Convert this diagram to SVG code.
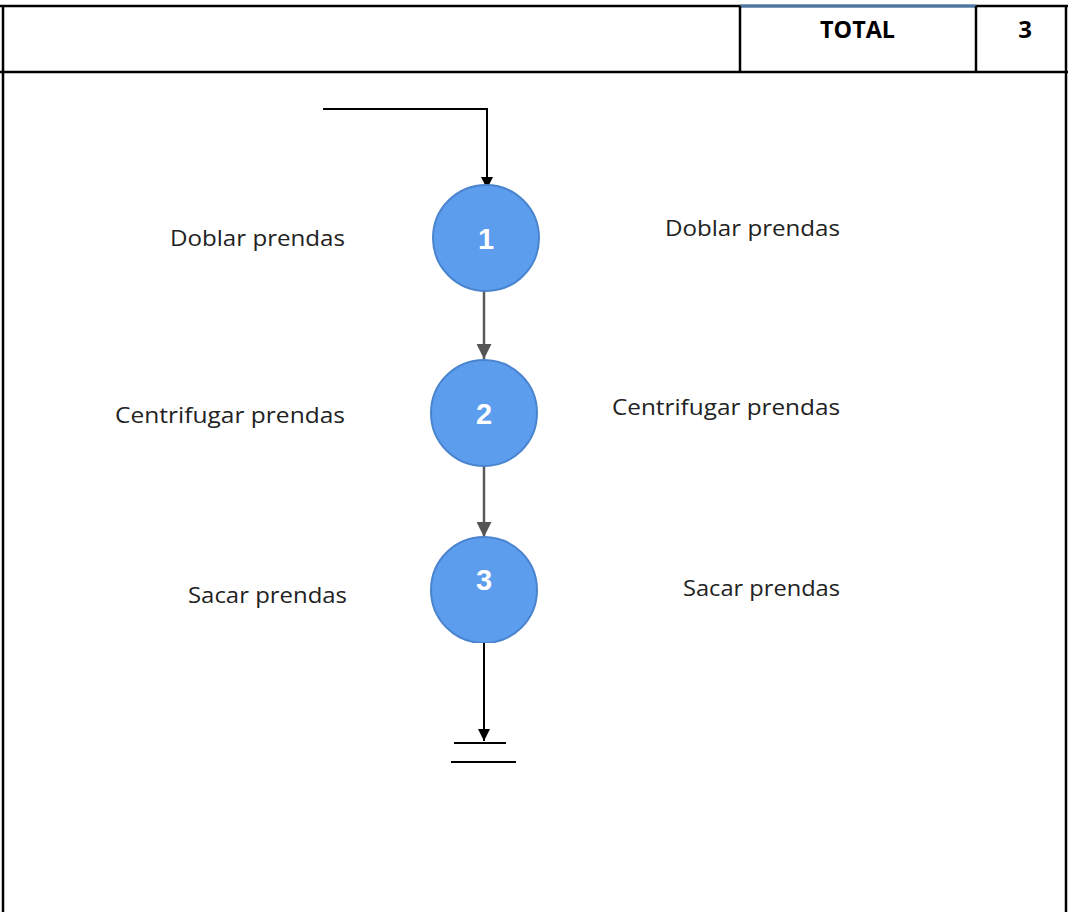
<svg xmlns="http://www.w3.org/2000/svg" width="1068" height="912" viewBox="0 0 1068 912">
  <style>
    .frame { stroke: #000; stroke-width: 2.5; fill: none; }
    .label { font-family: "Open Sans", "Noto Sans", sans-serif; font-size: 22px; fill: #222; }
    .head { font-family: "Open Sans", "Liberation Sans", sans-serif; font-size: 24px; font-weight: bold; fill: #000; }
    .step { fill: #5c9ded; stroke: #4a84cf; stroke-width: 2; }
    .num { font-family: "Liberation Sans", Arial, sans-serif; font-size: 29px; font-weight: bold; fill: #fff; text-anchor: middle; }
    .flow { stroke: #000; stroke-width: 2; fill: none; }
    .link { stroke: #5a5a5a; stroke-width: 2.5; fill: none; }
  </style>
  <defs>
    <marker id="arrowBlack" viewBox="0 0 10 10" refX="10" refY="5" markerWidth="6" markerHeight="6" orient="auto" markerUnits="strokeWidth">
      <path d="M0,0 L10,5 L0,10 z" fill="#000"/>
    </marker>
    <marker id="arrowGray" viewBox="0 0 10 10" refX="10" refY="5" markerWidth="6" markerHeight="6" orient="auto" markerUnits="strokeWidth">
      <path d="M0,0 L10,5 L0,10 z" fill="#555"/>
    </marker>
    <clipPath id="cropBottom">
      <rect x="0" y="0" width="1068" height="643"/>
    </clipPath>
  </defs>

  <rect width="1068" height="912" fill="#fff"/>

  <!-- table frame -->
  <g id="table">
    <line class="frame" x1="0" y1="6" x2="1068" y2="6"/>
    <line x1="740" y1="6" x2="976" y2="6" stroke="#4a78a8" stroke-width="3"/>
    <line class="frame" x1="3" y1="6" x2="3" y2="912"/>
    <line class="frame" x1="1066" y1="6" x2="1066" y2="912"/>
    <line class="frame" x1="0" y1="72" x2="1068" y2="72"/>
    <line class="frame" x1="740" y1="6" x2="740" y2="72" stroke-width="1.5"/>
    <line class="frame" x1="976" y1="6" x2="976" y2="72" stroke-width="1.5"/>
    <text class="head" x="820" y="38" textLength="75" lengthAdjust="spacingAndGlyphs">TOTAL</text>
    <text class="head" x="1025" y="38" text-anchor="middle">3</text>
  </g>

  <!-- connectors -->
  <g id="connectors">
    <polyline class="flow" points="323,109 487,109 487,189" marker-end="url(#arrowBlack)"/>
    <line class="link" x1="484" y1="290" x2="484" y2="359" marker-end="url(#arrowGray)"/>
    <line class="link" x1="484" y1="465" x2="484" y2="537" marker-end="url(#arrowGray)"/>
    <line class="flow" x1="484" y1="643" x2="484" y2="741" marker-end="url(#arrowBlack)"/>
    <line class="flow" x1="454" y1="743" x2="506" y2="743" stroke-width="1.5"/>
    <line class="flow" x1="451" y1="762" x2="516" y2="762" stroke-width="1.5"/>
  </g>

  <!-- step 1 -->
  <g id="step1">
    <circle class="step" cx="486" cy="238" r="53"/>
    <text class="num" x="486" y="249">1</text>
    <text class="label" x="170" y="246" textLength="175" lengthAdjust="spacingAndGlyphs">Doblar prendas</text>
    <text class="label" x="665" y="236" textLength="175" lengthAdjust="spacingAndGlyphs">Doblar prendas</text>
  </g>

  <!-- step 2 -->
  <g id="step2">
    <circle class="step" cx="484" cy="413" r="53"/>
    <text class="num" x="484" y="424">2</text>
    <text class="label" x="115" y="423" textLength="230" lengthAdjust="spacingAndGlyphs">Centrifugar prendas</text>
    <text class="label" x="612" y="415" textLength="228" lengthAdjust="spacingAndGlyphs">Centrifugar prendas</text>
  </g>

  <!-- step 3 -->
  <g id="step3">
    <circle class="step" cx="484" cy="590" r="53" clip-path="url(#cropBottom)"/>
    <text class="num" x="484" y="590">3</text>
    <text class="label" x="188" y="603" textLength="159" lengthAdjust="spacingAndGlyphs">Sacar prendas</text>
    <text class="label" x="683" y="596" textLength="157" lengthAdjust="spacingAndGlyphs">Sacar prendas</text>
  </g>
</svg>
